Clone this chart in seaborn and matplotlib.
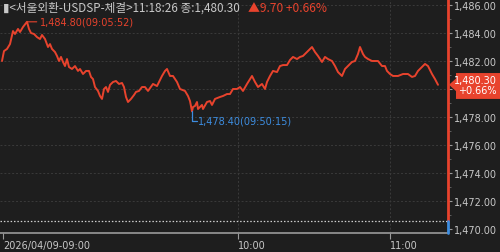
import matplotlib
matplotlib.use("Agg")
import matplotlib.pyplot as plt
import matplotlib.transforms as mtransforms
from matplotlib.patches import Polygon
from matplotlib.ticker import FuncFormatter, MultipleLocator
import seaborn as sns
import pandas as pd

# ---------------- data ----------------
seq = [2, 4, 7, 10, 13, 15, 18, 20, 23, 26, 27, 29, 31, 34, 37, 40, 42, 45, 48, 50,
       52, 55, 57, 59, 61, 63, 65, 67, 69, 72, 75, 78, 80, 83, 86, 89, 91, 93, 95, 98,
       100, 102, 104, 106, 108, 110, 113, 116, 119, 122, 124, 126, 128, 131, 134, 136, 139, 142, 145, 148,
       153, 157, 162, 165, 167, 170, 173, 177, 180, 185, 188, 190, 192, 193, 195, 197, 198, 202, 203, 207,
       210, 212, 215, 220, 223, 227, 230, 233, 237, 240, 243, 247, 250, 252, 255, 258, 262, 265, 267, 270,
       273, 277, 280, 283, 287, 290, 293, 297, 300, 303, 307, 312, 315, 318, 322, 325, 328, 332, 335, 338,
       342, 345, 348, 352, 355, 358, 360, 363, 365, 368, 372, 375, 378, 382, 385, 387, 390, 393, 398, 403,
       408, 412, 415, 418, 422, 425, 428, 432, 435, 438]
price = [1482.00, 1482.71, 1482.86, 1483.21, 1484.14, 1483.93, 1484.29, 1484.07, 1484.43, 1484.71,
         1484.80, 1484.29, 1484.00, 1483.93, 1483.71, 1483.57, 1483.86, 1483.57, 1483.00, 1483.21,
         1482.86, 1482.64, 1482.36, 1482.00, 1482.29, 1481.93, 1481.64, 1482.14, 1481.57, 1481.43,
         1481.64, 1481.29, 1481.43, 1481.07, 1481.29, 1481.29, 1480.86, 1480.71, 1480.14, 1479.86,
         1479.50, 1479.29, 1480.00, 1480.14, 1479.79, 1480.29, 1480.50, 1480.57, 1480.36, 1480.43,
         1480.14, 1479.43, 1479.07, 1479.29, 1479.57, 1479.79, 1479.86, 1480.14, 1480.14, 1479.86,
         1480.36, 1480.21, 1480.93, 1481.29, 1481.43, 1480.93, 1480.93, 1480.50, 1480.00, 1479.86,
         1479.50, 1479.14, 1478.40, 1478.71, 1478.79, 1479.07, 1478.57, 1478.86, 1478.57, 1479.07,
         1479.14, 1478.86, 1479.29, 1479.43, 1479.50, 1479.64, 1479.64, 1480.00, 1480.00, 1480.14,
         1479.86, 1480.36, 1480.71, 1480.93, 1480.50, 1480.14, 1480.36, 1480.00, 1480.50, 1480.93,
         1481.29, 1481.21, 1481.64, 1481.71, 1481.71, 1482.07, 1482.29, 1482.14, 1482.29, 1482.36,
         1482.64, 1483.00, 1482.64, 1482.36, 1481.93, 1482.29, 1482.14, 1482.00, 1481.64, 1481.21,
         1480.93, 1481.43, 1481.64, 1481.93, 1482.00, 1482.50, 1483.00, 1482.50, 1482.29, 1482.14,
         1482.00, 1482.00, 1482.00, 1481.64, 1481.64, 1481.29, 1481.07, 1480.93, 1480.93, 1481.07,
         1481.07, 1480.86, 1480.93, 1481.29, 1481.57, 1481.79, 1481.64, 1481.07, 1480.71, 1480.30]

prev_close = 1470.60
last_price = 1480.30
change = 9.70
change_pct = 0.66
max_label = "1,484.80(09:05:52)"
min_label = "1,478.40(09:50:15)"
header = "▮<서울외환-USDSP-체결>11:18:26 종:1,480.30"
header_chg = "▲9.70 +0.66%"
x_tick_pos = [3, 238, 390]
x_tick_labels = ["2026/04/09-09:00", "10:00", "11:00"]
y_ticks = [1470, 1472, 1474, 1476, 1478, 1480, 1482, 1484, 1486]
hidden_y_label = 1480  # covered by the current-price tag

# ---------------- style ----------------
BG = "#1e1e1e"
RED = "#e8432d"
BLUE = "#3d8de0"
TXT = "#c8c8c8"
GRID = "#3a3a3a"

sns.set_theme(style="dark")
plt.rcParams["font.family"] = ["Noto Sans CJK KR", "DejaVu Sans"]

W, H = 500, 253
fig = plt.figure(figsize=(W / 100, H / 100), dpi=100, facecolor=BG)
ax = fig.add_axes([0, 19 / H, 448 / W, 234 / H])
ax.set_facecolor(BG)

df = pd.DataFrame({"seq": seq, "price": price})
sns.lineplot(data=df, x="seq", y="price", ax=ax, color=RED, lw=1.4, sort=False,
             estimator=None)

ymin, ymax = 1469.71, 1486.43
ax.set_xlim(0, 448)
ax.set_ylim(ymin, ymax)
ax.set_xlabel("")
ax.set_ylabel("")

# grid
for yv in y_ticks[1:]:
    ax.axhline(yv, color=GRID, lw=0.7, ls=(0, (2, 2)), zorder=0)
for xv in x_tick_pos[1:]:
    ax.axvline(xv, color=GRID, lw=0.7, ls=(0, (2, 2)), zorder=0)

# previous close line
ax.axhline(prev_close, color="#cfcfcf", lw=0.9, ls=(0, (1.2, 1.5)), zorder=1)

# spines
for s in ["top", "left", "right"]:
    ax.spines[s].set_visible(False)
ax.spines["bottom"].set_color("#9a9a9a")
ax.spines["bottom"].set_linewidth(1.2)

# right axis line: red above prev close, blue below
frac = (prev_close - ymin) / (ymax - ymin)
ax.axvline(448, ymin=frac, ymax=1, color=RED, lw=2, clip_on=False, zorder=5)
ax.axvline(448, ymin=0, ymax=frac, color=BLUE, lw=2, clip_on=False, zorder=5)

# y ticks on right
ax.yaxis.tick_right()
ax.set_yticks(y_ticks)
ax.yaxis.set_minor_locator(MultipleLocator(1))
ax.yaxis.set_major_formatter(
    FuncFormatter(lambda v, p: "" if abs(v - hidden_y_label) < 1e-6 else f"{v:,.2f}"))
ax.tick_params(axis="y", which="major", right=True, length=3, width=0.8, color="#9a9a9a",
               labelcolor=TXT, labelsize=7, pad=1)
ax.tick_params(axis="y", which="minor", right=True, length=2, width=0.6, color="#6a6a6a")
for lab in ax.get_yticklabels():
    lab.set_family("DejaVu Sans")

# x ticks
ax.set_xticks(x_tick_pos)
ax.set_xticklabels(x_tick_labels)
ax.tick_params(axis="x", bottom=True, length=4, width=0.8, color="#9a9a9a",
               labelcolor=TXT, labelsize=7, pad=1)
for lab in ax.get_xticklabels():
    lab.set_horizontalalignment("left")
    lab.set_family("DejaVu Sans")

# max annotation
imax = max(range(len(price)), key=lambda i: price[i])
ax.annotate(max_label, xy=(seq[imax], price[imax]), xytext=(seq[imax] + 13, price[imax]),
            color=RED, fontsize=7, va="center", ha="left", family="DejaVu Sans",
            arrowprops=dict(arrowstyle="-", color=RED, lw=0.8, shrinkA=0, shrinkB=0))

# min annotation
imin = min(range(len(price)), key=lambda i: price[i])
mx, my = seq[imin], price[imin]
dy = 10 / 14
ax.plot([mx, mx, mx + 5], [my, my - dy, my - dy], color=BLUE, lw=0.9)
ax.text(mx + 6, my - dy + 0.05, min_label, color=BLUE, fontsize=7, va="center",
        ha="left", family="DejaVu Sans")

# current price tag
bt = mtransforms.blended_transform_factory(fig.transFigure, ax.transData)
x0, x1, x2 = 449 / W, 456 / W, 1.0
top, bot = last_price + 0.84, last_price - 1.01
poly = Polygon([[x0, last_price], [x1, last_price + 0.45], [x1, top], [x2, top],
                [x2, bot], [x1, bot], [x1, last_price - 0.45]], closed=True,
               facecolor=RED, edgecolor="none", transform=bt, clip_on=False, zorder=6)
fig.add_artist(poly)
fig.text(497 / W, last_price + 0.37, f"{last_price:,.2f}", color="white", fontsize=7,
         ha="right", va="center", family="DejaVu Sans", transform=bt, zorder=7)
fig.text(497 / W, last_price - 0.35, f"+{change_pct:.2f}%", color="white", fontsize=7,
         ha="right", va="center", family="DejaVu Sans", transform=bt, zorder=7)

# header
fig.text(3 / W, 1 - 8 / H, header, color=TXT, fontsize=8.4, ha="left", va="center")
fig.text(248 / W, 1 - 8 / H, header_chg, color=RED, fontsize=8.6, ha="left", va="center")

fig.savefig("out.png", dpi=100, facecolor=BG)
